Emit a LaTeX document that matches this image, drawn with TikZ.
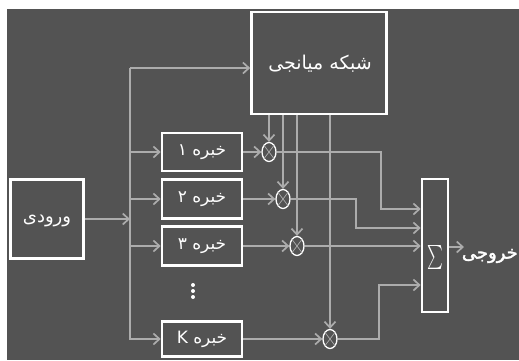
\documentclass[tikz,border=0pt]{standalone}
\usepackage{fontspec}
\newfontfamily\arabicfont[Script=Arabic]{DejaVu Sans}
\newfontfamily\arabicbold[Script=Arabic,FakeBold=2]{DejaVu Sans}
\TeXXeTstate=1
\usetikzlibrary{arrows.meta,shapes.geometric}
\definecolor{bg}{RGB}{83,83,83}
\definecolor{ln}{RGB}{172,172,172}
\tikzset{
  box/.style={draw=white, line width=2.6pt, fill=bg, inner sep=0pt, text=white},
  wire/.style={draw=ln, line width=1.7pt},
  arr/.style={wire, -{Straight Barb[length=6pt,width=11pt,line width=1.7pt]}},
  mult/.style={ellipse, draw=white, line width=1.3pt, fill=bg, minimum width=14pt, minimum height=19pt, inner sep=0pt},
  dotm/.style={circle, fill=white, inner sep=0pt, minimum size=4pt},
  ptxt/.style={text=white, font=\arabicfont\fontsize{17}{17}\selectfont},
}
\begin{document}
\begin{tikzpicture}[x=1pt,y=-1pt]
\useasboundingbox (0,0) rectangle (519,360);
\fill[white] (0,0) rectangle (519,360);
\fill[bg] (7,9) rectangle (519,360);

% boxes
\node[box, minimum width=135pt, minimum height=102pt] (med) at (319,63) {};
\node[ptxt, font=\arabicfont\fontsize{19}{19}\selectfont] (medt) at (320,64) {\beginR شبکه میانجی\endR};
\node[box, minimum width=73pt, minimum height=79pt] (inp) at (47,219) {};
\node[ptxt, font=\arabicfont\fontsize{18}{18}\selectfont] (inpt) at (47,221) {\beginR ورودی\endR};

\node[box, minimum width=80pt, minimum height=38pt, ptxt] (e1) at (202,152) {\beginR خبره ۱\endR};
\node[box, minimum width=80pt, minimum height=39pt, ptxt] (e2) at (202,199) {\beginR خبره ۲\endR};
\node[box, minimum width=80pt, minimum height=39pt, ptxt] (e3) at (202,246) {\beginR خبره ۳\endR};
\node[box, minimum width=80pt, minimum height=35pt, ptxt] (eK) at (202,339) {\beginR خبره K\endR};

\node[box, minimum width=26pt, minimum height=133pt] (sig) at (435,245.5) {};
\node[text=white, inner sep=0pt, xscale=1.5, yscale=2.4] (sigt) at (435,257) {$\textstyle\sum$};

% vertical dots
\node[dotm] (d1) at (193,285) {};
\node[dotm] (d2) at (193,291) {};
\node[dotm] (d3) at (193,297) {};

% multipliers
\foreach \n/\x/\y in {m1/269/152, m2/283/199, m3/297/246, mK/330/339}{
  \node[mult] (\n) at (\x,\y) {};
  \draw[ln, line width=0.7pt] (\n.north west) -- (\n.south east) (\n.north east) -- (\n.south west);
}

% input bus
\coordinate (bt) at (130,68);
\coordinate (bb) at (130,340);
\coordinate (bj) at (130,219);
\draw[wire] (bt) -- (bb);
\draw[arr] (inp.east |- bj) -- (bj);
\draw[arr] (bt) -- (bt -| med.west);
\foreach \e in {e1,e2,e3,eK}{
  \draw[arr] (bt |- \e) -- (\e.west);
}

% mediator to multipliers
\foreach \m in {m1,m2,m3,mK}{
  \draw[arr] (\m |- med.south) -- (\m.north);
}

% experts to multipliers
\draw[arr] (e1.east) -- (m1.west);
\draw[arr] (e2.east) -- (m2.west);
\draw[arr] (e3.east) -- (m3.west);
\draw[arr] (eK.east) -- (mK.west);

% multipliers to sum
\draw[arr] (m1.east) -- (381,152) -- (381,209) -- (sig.west |- 0,209);
\draw[arr] (m2.east) -- (356,199) -- (356,228) -- (sig.west |- 0,228);
\draw[arr] (m3.east) -- (sig.west |- m3);
\draw[arr] (mK.east) -- (379,339) -- (379,285) -- (sig.west |- 0,285);

% output
\coordinate (oe) at (464,247);
\draw[arr] (sig.east |- oe) -- (oe);
\node[text=white, font=\arabicbold\fontsize{18}{18}\selectfont, anchor=east, inner sep=0pt] (outt) at (518,256) {\beginR خروجی\endR};
\end{tikzpicture}
\end{document}
